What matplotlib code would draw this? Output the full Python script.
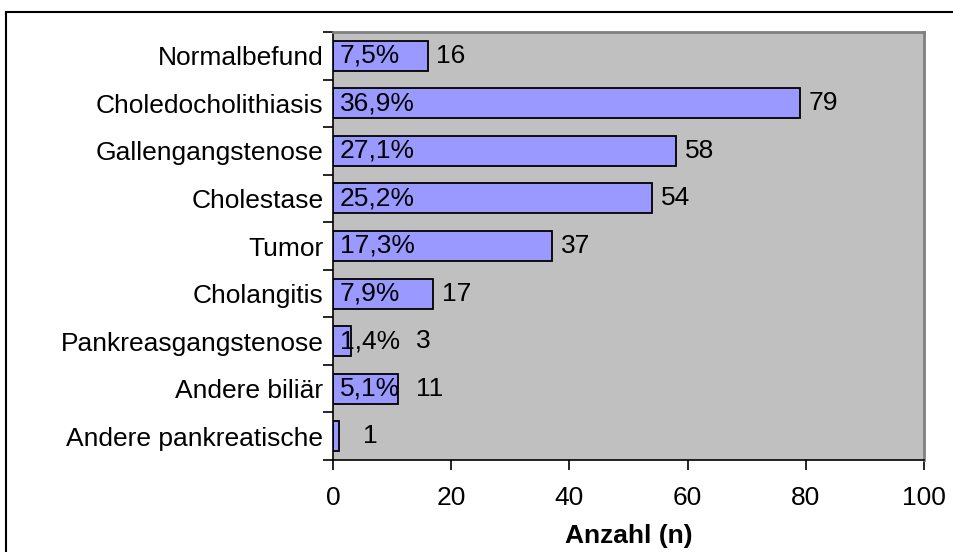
import numpy as np
import matplotlib
matplotlib.use("Agg")
import matplotlib.pyplot as plt
from matplotlib.patches import Rectangle

categories = ["Normalbefund", "Choledocholithiasis", "Gallengangstenose", "Cholestase",
              "Tumor", "Cholangitis", "Pankreasgangstenose", "Andere biliär",
              "Andere pankreatische"]
counts = [16, 79, 58, 54, 37, 17, 3, 11, 1]
pct_labels = ["7,5%", "36,9%", "27,1%", "25,2%", "17,3%", "7,9%", "1,4%", "5,1%", ""]
xticks = [0, 20, 40, 60, 80, 100]

plt.rcParams["font.family"] = ["Liberation Sans", "DejaVu Sans"]
FS = 19

fig = plt.figure(figsize=(9.54, 5.52), dpi=100)
ax = fig.add_axes([333/954, 1 - 460/552, 591/954, 428/552])

# outer chart frame
fig.patches.append(Rectangle((6/954, -0.1), 1.2, 1 - 12/552 + 0.1, transform=fig.transFigure,
                             fill=False, edgecolor="black", lw=1.5))

ax.set_facecolor("#C0C0C0")
y = np.arange(len(categories))
ax.barh(y, counts, height=0.63, color="#9999FF", edgecolor="black", lw=1.3, zorder=2)
ax.set_ylim(len(categories) - 0.5, -0.5)
ax.set_xlim(0, 100)

ax.set_yticks(y)
ax.set_yticklabels(categories, fontsize=FS)
ax.set_yticks(np.arange(len(categories) + 1) - 0.5, minor=True)
ax.tick_params(axis="y", which="major", length=0, pad=7)
ax.tick_params(axis="y", which="minor", length=7, width=1.2)
ax.set_xticks(xticks)
ax.set_xticklabels([str(t) for t in xticks], fontsize=FS)
ax.tick_params(axis="x", length=7, width=1.2, pad=12)
ax.set_xlabel("Anzahl (n)", fontsize=FS, fontweight="bold", labelpad=10)

for s in ["top", "right"]:
    ax.spines[s].set_color("#808080")
    ax.spines[s].set_linewidth(2)
for s in ["left", "bottom"]:
    ax.spines[s].set_linewidth(1.2)

fig.canvas.draw()
r = fig.canvas.get_renderer()
inv = ax.transData.inverted()
for yi, (v, p) in enumerate(zip(counts, pct_labels)):
    end = 0
    if p:
        t = ax.text(1.1, yi, p, fontsize=FS, va="center", ha="left", zorder=3)
        bb = t.get_window_extent(r)
        end = inv.transform((bb.x1, 0))[0]
    x = max(v + 1.5, end + 2.7, 5)
    ax.text(x, yi, str(v), fontsize=FS, va="center", ha="left", zorder=3)

fig.savefig("out.png", dpi=100)
